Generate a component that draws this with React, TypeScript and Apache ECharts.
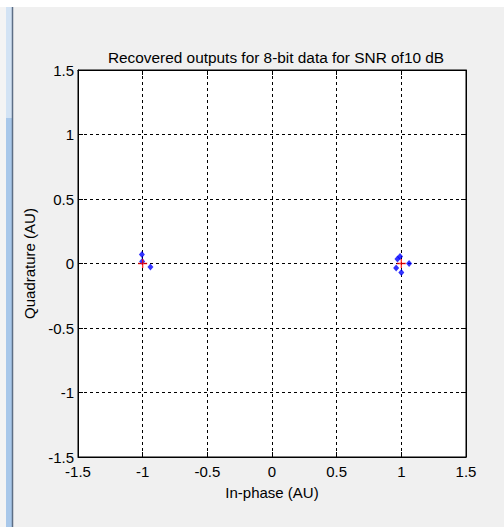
import React, { useEffect, useRef } from "react";
import * as echarts from "echarts";

const titleText = "Recovered outputs for 8-bit data for SNR of10 dB";
const xAxisName = "In-phase (AU)";
const yAxisName = "Quadrature (AU)";
const recoveredI = [-1.006, -1.004, -0.94, 0.99, 0.97, 1.06, 0.96, 1.0];
const recoveredQ = [0.07, 0.016, -0.027, 0.055, 0.035, 0.0, -0.035, -0.07];
const idealI = [-1, 1];
const idealQ = [0, 0];
const axisMin = -1.5;
const axisMax = 1.5;
const axisStep = 0.5;

const FONT = "Liberation Sans, Arial, sans-serif";

export default function App() {
  const ref = useRef<HTMLDivElement>(null);
  useEffect(() => {
    document.body.style.margin = "0";
    const chart = echarts.init(ref.current!, null, { renderer: "svg" });
    const tickLabel = (v: number) => String(v);
    const gridLine = { show: true, lineStyle: { color: "#000", type: [3, 3] as any, width: 1 } };
    const lineAx = { show: true, onZero: false, lineStyle: { color: "#000", width: 1 } };
    const tick = { show: true, inside: true, length: 5, lineStyle: { color: "#000" } };
    const base = { type: "value" as const, min: axisMin, max: axisMax, interval: axisStep };
    chart.setOption({
      animation: false,
      backgroundColor: "#f0f0f0",
      title: {
        text: titleText,
        left: 271,
        top: 45,
        textAlign: "center",
        textStyle: { fontFamily: FONT, fontSize: 15.4, fontWeight: "normal", color: "#000" },
      },
      grid: {
        left: 78,
        right: 38,
        top: 70,
        bottom: 70,
        show: true,
        backgroundColor: "#fff",
        borderColor: "#000",
        borderWidth: 1,
      },
      graphic: [
        { type: "rect", shape: { x: 0, y: 0, width: 504, height: 7 }, style: { fill: "#ffffff" } },
        { type: "rect", shape: { x: 0, y: 7, width: 6, height: 520 }, style: { fill: "#f4f4f4" } },
        { type: "rect", shape: { x: 6, y: 7, width: 6, height: 111 }, style: { fill: "#d3e3f4" } },
        { type: "rect", shape: { x: 6, y: 118, width: 6, height: 409 }, style: { fill: "#a9c8ea" } },
        { type: "line", shape: { x1: 12.5, y1: 7, x2: 12.5, y2: 527 }, style: { stroke: "#5d6e85", lineWidth: 1.5 } },
      ],
      xAxis: [
        {
          ...base,
          position: "bottom",
          name: xAxisName,
          nameLocation: "middle",
          nameGap: 28,
          nameTextStyle: { fontFamily: FONT, fontSize: 15, color: "#000" },
          axisLine: lineAx,
          axisTick: tick,
          splitLine: gridLine,
          axisLabel: { formatter: tickLabel, margin: 8, lineHeight: 12, fontFamily: FONT, fontSize: 15, color: "#000" },
        },
        {
          ...base,
          position: "top",
          axisLine: lineAx,
          axisTick: tick,
          splitLine: { show: false },
          axisLabel: { show: false },
        },
      ],
      yAxis: [
        {
          ...base,
          position: "left",
          name: yAxisName,
          nameLocation: "middle",
          nameGap: 41,
          nameTextStyle: { fontFamily: FONT, fontSize: 15, color: "#000" },
          axisLine: lineAx,
          axisTick: tick,
          splitLine: gridLine,
          axisLabel: { formatter: tickLabel, margin: 4, lineHeight: 12, fontFamily: FONT, fontSize: 15, color: "#000" },
        },
        {
          ...base,
          position: "right",
          axisLine: lineAx,
          axisTick: tick,
          splitLine: { show: false },
          axisLabel: { show: false },
        },
      ],
      series: [
        {
          type: "scatter",
          xAxisIndex: 0,
          yAxisIndex: 0,
          symbol: "diamond",
          symbolSize: [6, 7],
          itemStyle: { color: "#0000ff" },
          data: recoveredI.map((v, i) => [v, recoveredQ[i]]),
        },
        {
          type: "scatter",
          xAxisIndex: 0,
          yAxisIndex: 0,
          symbol: "path://M-0.15,-1L0.15,-1L0.15,1L-0.15,1ZM-1,-0.15L1,-0.15L1,0.15L-1,0.15Z",
          symbolSize: 9,
          itemStyle: { color: "#ff0000" },
          data: idealI.map((v, i) => [v, idealQ[i]]),
        },
      ],
    });
    return () => chart.dispose();
  }, []);
  return <div ref={ref} style={{ position: "absolute", left: 0, top: 0, width: 504, height: 527 }} />;
}
